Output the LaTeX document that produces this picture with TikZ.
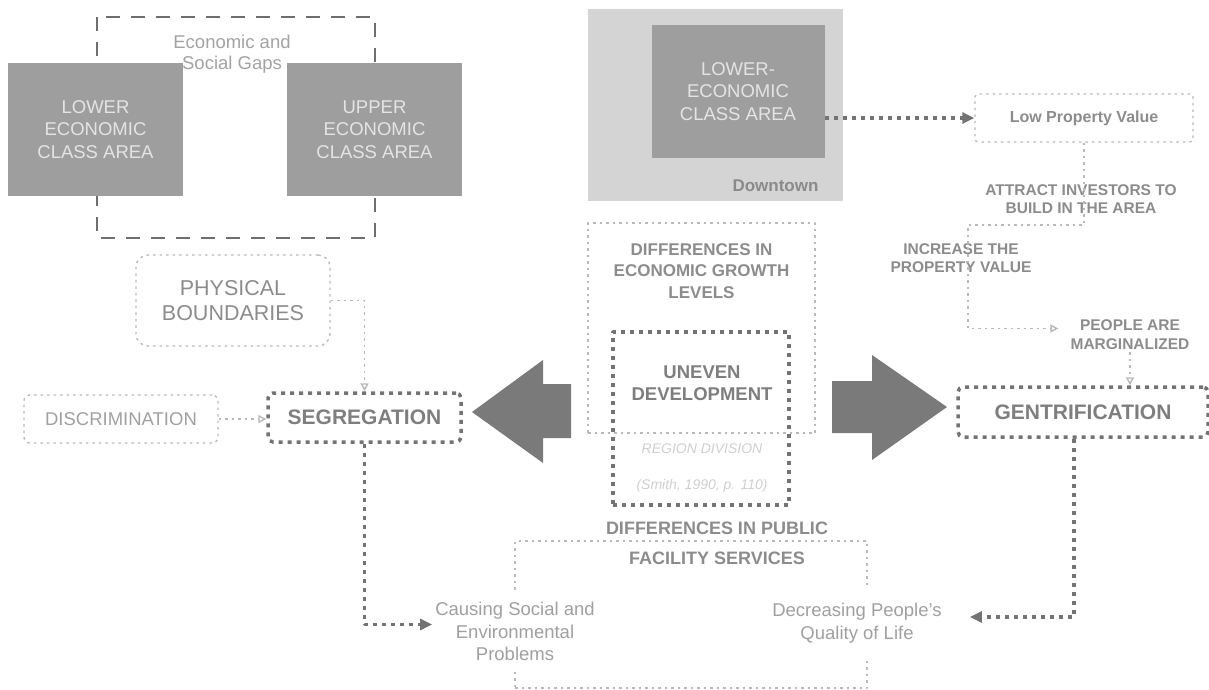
\documentclass[tikz,border=0pt]{standalone}
\usepackage{fontspec}
\setmainfont{Liberation Sans}
\usetikzlibrary{arrows.meta}

\definecolor{areagray}{HTML}{9E9E9E}
\definecolor{areatext}{HTML}{E4E4E4}
\definecolor{towngray}{HTML}{D4D4D4}
\definecolor{towntext}{HTML}{8A8A8A}
\definecolor{framegray}{HTML}{6E6E6E}
\definecolor{gaptext}{HTML}{A3A3A3}
\definecolor{heavygray}{HTML}{737373}
\definecolor{softgray}{HTML}{B9B9B9}
\definecolor{arrowgray}{HTML}{7A7A7A}
\definecolor{labelgray}{HTML}{8C8C8C}
\definecolor{keygray}{HTML}{7E7E7E}
\definecolor{palegray}{HTML}{A0A0A0}
\definecolor{citegray}{HTML}{CFCFCF}

\newcommand{\setfs}[2]{\fontsize{#1}{#2}\selectfont}

\begin{document}
\begin{tikzpicture}[x=1pt, y=-1pt, line join=round,
	areabox/.style={fill=areagray, text=areatext, minimum width=175pt, minimum height=133pt, inner sep=0pt, align=center, font=\setfs{18.5}{22.5}},
	softbox/.style={draw=softgray, line width=1.4pt, dash pattern=on 2.5pt off 4pt, align=center, inner sep=0pt},
	heavybox/.style={draw=heavygray, line width=3.5pt, dash pattern=on 4pt off 5pt, align=center, inner sep=0pt},
	heavylink/.style={draw=heavygray, line width=3.5pt, dash pattern=on 4pt off 5pt, -{Triangle[length=12pt,width=11pt]}},
	softlink/.style={draw=softgray, line width=1.4pt, dash pattern=on 2.5pt off 4pt, -{Triangle[open,length=8pt,width=8pt]}},
	steptext/.style={text=labelgray, align=center, inner sep=3pt, font=\bfseries\setfs{15.5}{18.5}},
	effect/.style={fill=white, text=palegray, align=center, inner xsep=3pt, font=\setfs{18.5}{22.5}},
	cite/.style={text=citegray, font=\itshape\setfs{14}{16}}]
	\useasboundingbox (0,0) rectangle (1209,690);
	%\draw[color=gray!30] (0,0) grid[step=50pt] (1209,690);

	% gap between the two class areas
	\draw[framegray, line width=2.5pt, dash pattern=on 14pt off 11pt] (97,17) rectangle (375,238);
	\node[areabox] (lowarea) at (95.5,129.5) {LOWER\\ECONOMIC\\CLASS AREA};
	\node[areabox] (uparea) at (374.5,129.5) {UPPER\\ECONOMIC\\CLASS AREA};
	\node[text=gaptext, align=center, font=\setfs{18.5}{21.5}] (gaps) at (232,54) {Economic and\\Social Gaps};

	% downtown
	\node[fill=towngray, minimum width=255pt, minimum height=192pt] (downtown) at (715.5,105) {};
	\node[areabox, minimum width=173pt] (lowtown) at (738,91.5) {LOWER-\\ECONOMIC\\CLASS AREA};
	\node[anchor=east, text=towntext, font=\bfseries\setfs{17}{20}] (townlbl) at (822,186) {Downtown};

	% gentrification chain
	\node[softbox, rounded corners=3pt, minimum width=218pt, minimum height=48pt, text=labelgray, font=\bfseries\setfs{16}{19}] (lpv) at (1084,118) {Low Property Value};
	\node[steptext] (invest) at (1081,199) {ATTRACT INVESTORS TO\\BUILD IN THE AREA};
	\node[steptext] (increase) at (961,258) {INCREASE THE\\PROPERTY VALUE};
	\node[steptext] (people) at (1130,334.5) {PEOPLE ARE\\MARGINALIZED};
	\coordinate (turn) at (968,225);
	\node[heavybox, rounded corners=5pt, minimum width=250pt, minimum height=50pt, text=keygray, font=\bfseries\setfs{21}{25}] (gent) at (1083,412) {GENTRIFICATION};

	% uneven development
	\node[softbox, minimum width=227pt, minimum height=210pt] (growth) at (701.5,328) {};
	\node[text=labelgray, align=center, font=\bfseries\setfs{17}{21.5}] (growthlbl) at (701.5,271) {DIFFERENCES IN\\ECONOMIC GROWTH\\LEVELS};
	\node[heavybox, minimum width=176pt, minimum height=173pt] (uneven) at (701,418.5) {};
	\node[text=keygray, align=center, font=\bfseries\setfs{18.5}{21.5}] (unevenlbl) at (702,383) {UNEVEN\\DEVELOPMENT};
	\node[cite] (region) at (702,449) {REGION DIVISION};
	\node[cite] (smith) at (702,486) {(Smith, 1990, p. 110)};
	\fill[arrowgray] (472,412) -- (543,360) -- (543,384) -- (571,384) -- (571,438) -- (543,438) -- (543,463) -- cycle;
	\fill[arrowgray] (947,407) -- (872,355) -- (872,381) -- (832,381) -- (832,433) -- (872,433) -- (872,460) -- cycle;

	% segregation side
	\node[softbox, rounded corners=12pt, minimum width=194pt, minimum height=91pt, text=labelgray, font=\setfs{21.5}{25.5}] (phys) at (233,300.5) {PHYSICAL\\BOUNDARIES};
	\node[softbox, rounded corners=6pt, minimum width=194pt, minimum height=48pt, text=palegray, font=\setfs{18.5}{22}] (disc) at (121,419) {DISCRIMINATION};
	\node[heavybox, rounded corners=5pt, minimum width=193pt, minimum height=49pt, text=keygray, font=\bfseries\setfs{21}{25}] (seg) at (364.5,417.5) {SEGREGATION};

	% public facilities
	\node[softbox, minimum width=352pt, minimum height=147pt] (public) at (691,614.5) {};
	\node[text=labelgray, align=center, font=\bfseries\setfs{18}{30}] (publiclbl) at (717,543) {DIFFERENCES IN PUBLIC\\FACILITY SERVICES};
	\node[effect, inner ysep=11pt] (causing) at (515,631.5) {Causing Social and\\Environmental\\Problems};
	\node[effect, inner ysep=17pt] (dec) at (857,623) {Decreasing People's\\Quality of Life};

	\draw[heavylink] (lowtown.east |- lpv.west) -- (lpv.west);
	\draw[softlink] (lpv.south) |- (turn) |- ([xshift=-9pt,yshift=6pt]people.west);
	\draw[softlink] (people.south) -- (people.south |- gent.north);
	\draw[softlink] (disc.east) -- (disc.east -| seg.west);
	\draw[softlink] (phys.east) -| (seg.north);
	\draw[heavylink] (seg.south) |- ([yshift=7pt]causing.west);
	\draw[heavylink] ([xshift=-9pt]gent.south) |- ([xshift=25pt,yshift=6pt]dec.east);
\end{tikzpicture}
\end{document}
